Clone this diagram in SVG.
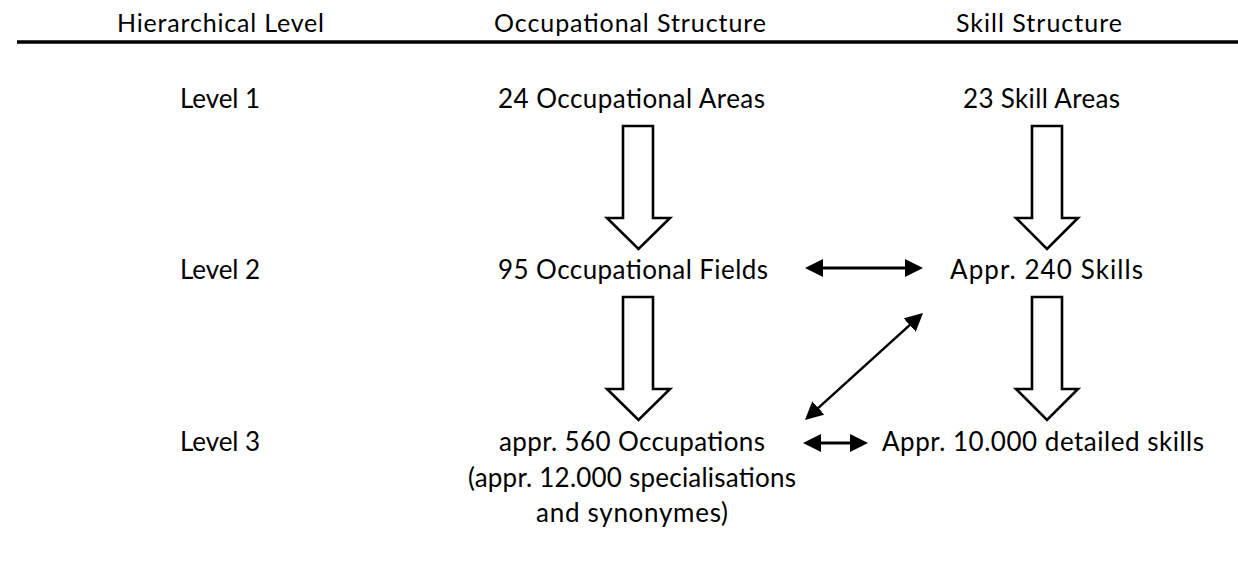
<svg xmlns="http://www.w3.org/2000/svg" width="1238" height="567" viewBox="0 0 1238 567">
<defs>
<style>
text{font-family:Lato,"Liberation Sans",Arial,sans-serif;font-size:26px;fill:#000;text-anchor:middle}
.hd{font-size:25px}
.blk{fill:#fff;stroke:#000;stroke-width:2.6;stroke-linejoin:miter}
.con{stroke:#000;fill:none}
</style>
<marker id="ah" viewBox="0 0 18 18" markerWidth="18" markerHeight="18" markerUnits="userSpaceOnUse" refX="10" refY="9" orient="auto-start-reverse">
<path d="M0,0 L18,9 L0,18 Z" fill="#000"/>
</marker>
</defs>
<rect width="1238" height="567" fill="#fff"/>
<g id="header">
<text class="hd" x="220.5" y="32" textLength="207" lengthAdjust="spacing">Hierarchical Level</text>
<text class="hd" x="630" y="32" textLength="272" lengthAdjust="spacing">Occupational Structure</text>
<text class="hd" x="1039" y="32" textLength="166" lengthAdjust="spacing">Skill Structure</text>
<line x1="17" y1="42" x2="1238" y2="42" stroke="#000" stroke-width="3.5"/>
</g>
<g id="level1"><text x="220" y="108" textLength="80" lengthAdjust="spacing">Level 1</text></g>
<g id="level2"><text x="220" y="279" textLength="80" lengthAdjust="spacing">Level 2</text></g>
<g id="level3"><text x="220" y="451" textLength="80" lengthAdjust="spacing">Level 3</text></g>
<g id="occ-areas"><text x="631.5" y="108" textLength="267" lengthAdjust="spacing">24 Occupational Areas</text></g>
<g id="occ-fields"><text x="633" y="279" textLength="270" lengthAdjust="spacing">95 Occupational Fields</text></g>
<g id="occupations">
<text x="632" y="451" textLength="266" lengthAdjust="spacing">appr. 560 Occupations</text>
<text x="632" y="487" textLength="328" lengthAdjust="spacing">(appr. 12.000 specialisations</text>
<text x="632" y="522" textLength="192" lengthAdjust="spacing">and synonymes)</text>
</g>
<g id="skill-areas"><text x="1041.5" y="108" textLength="157" lengthAdjust="spacing">23 Skill Areas</text></g>
<g id="skills"><text x="1046.5" y="279" textLength="193" lengthAdjust="spacing">Appr. 240 Skills</text></g>
<g id="detailed-skills"><text x="1043" y="451" textLength="322" lengthAdjust="spacing">Appr. 10.000 detailed skills</text></g>
<g id="connectors">
<path class="blk" d="M623,126 H653 V218 H670 L638.5,249 L607,218 H623 Z"/>
<path class="blk" d="M623,297 H653 V389 H670 L638.5,420 L607,389 H623 Z"/>
<path class="blk" d="M1032,126 H1062 V218 H1078 L1047,249 L1016,218 H1032 Z"/>
<path class="blk" d="M1032,297 H1062 V389 H1078 L1047,420 L1016,389 H1032 Z"/>
<line class="con" x1="813" y1="268" x2="915" y2="268" stroke-width="3.2" marker-start="url(#ah)" marker-end="url(#ah)"/>
<line class="con" x1="810.9" y1="414.6" x2="917.1" y2="318.4" stroke-width="2.5" marker-start="url(#ah)" marker-end="url(#ah)"/>
<line class="con" x1="811" y1="443" x2="860" y2="443" stroke-width="3.2" marker-start="url(#ah)" marker-end="url(#ah)"/>
</g>
</svg>
